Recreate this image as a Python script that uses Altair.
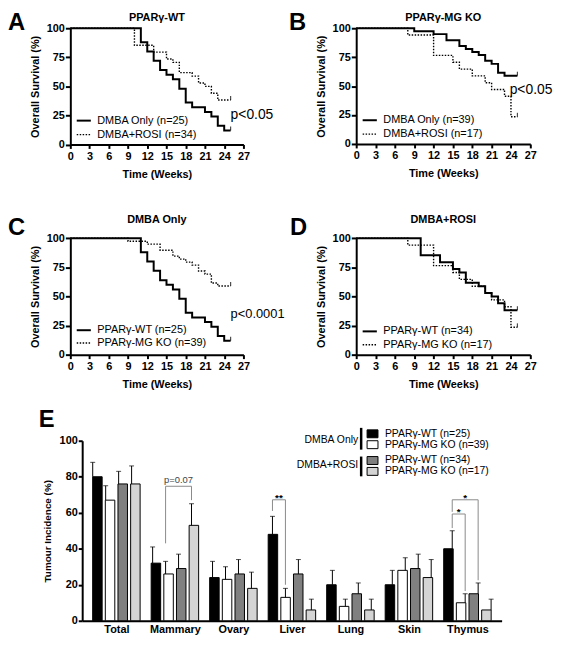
import json
import altair as alt
import pandas as pd

FONT = "Liberation Sans"
W, H = 557, 632

# ---------------- Kaplan-Meier curves (weeks, % survival) ----------------
wt_dmba_t = [0, 11, 12, 13, 14, 15, 16, 17, 18, 19, 21, 22, 23, 24, 25]
wt_dmba_s = [100, 88, 80, 72, 64, 60, 56, 48, 36, 32, 28, 24, 16, 12, 12]
wt_rosi_t = [0, 10, 13, 15, 16, 17, 19, 20, 21, 22, 23, 25]
wt_rosi_s = [100, 85.3, 79.4, 73.5, 70.6, 61.8, 58.8, 52.9, 50.0, 44.1, 38.2, 38.2]
ko_dmba_t = [0, 9, 12, 14, 16, 17, 18, 19, 20, 21, 22, 23, 25]
ko_dmba_s = [100, 97.4, 94.9, 89.7, 84.6, 82.1, 79.5, 76.9, 71.8, 69.2, 61.5, 59.0, 59.0]
ko_rosi_t = [0, 8, 12, 15, 16, 18, 20, 21, 23, 24, 25]
ko_rosi_s = [100, 94.1, 76.5, 70.6, 64.7, 58.8, 52.9, 47.1, 41.2, 23.5, 23.5]

km_x_ticks = [0, 3, 6, 9, 12, 15, 18, 21, 24, 27]
km_y_ticks = [0, 25, 50, 75, 100]

# ---------------- Tumour incidence ----------------
categories = ["Total", "Mammary", "Ovary", "Liver", "Lung", "Skin", "Thymus"]
series = ["PPARγ-WT (n=25)", "PPARγ-MG KO (n=39)", "PPARγ-WT (n=34)", "PPARγ-MG KO (n=17)"]
groups = ["DMBA Only", "DMBA+ROSI"]
inc_wt_dmba = [80, 32, 24, 48, 20, 20, 40]
inc_ko_dmba = [67, 26, 23, 13, 8, 28, 10]
inc_wt_rosi = [76, 29, 26, 26, 15, 29, 15]
inc_ko_rosi = [76, 53, 18, 6, 6, 24, 6]
err_wt_dmba = [8, 9, 9, 10, 8, 8, 10]
err_ko_dmba = [8, 7, 7, 5, 4, 7, 5]
err_wt_rosi = [7, 8, 8, 8, 6, 8, 6]
err_ko_rosi = [10, 12, 9, 6, 6, 10, 6]
bar_y_ticks = [0, 20, 40, 60, 80, 100]

# significance brackets: category, left series, right series, top, left foot, right foot, label
brackets = [
    ("Mammary", 1, 3, 74.7, 43, 67, "p=0.07"),
    ("Liver", 0, 1, 67.2, 61, 20, "**"),
    ("Thymus", 0, 1, 59.3, 51.5, 16.5, "*"),
    ("Thymus", 0, 2, 67.2, 60.5, 22.5, "*"),
]

bar_colors = ["#000000", "#ffffff", "#808080", "#d4d4d4"]
offsets = [-0.3245, -0.1082, 0.1082, 0.3245]

AX = dict(domainColor="black", domainWidth=2, tickColor="black", tickWidth=2,
          labelFont=FONT, labelFontSize=11, labelFontWeight="bold", labelColor="black",
          labelFlush=False, labelOverlap=False, titleFont=FONT, titleFontWeight="bold",
          titleColor="black", grid=False)

one = pd.DataFrame({"k": [0]})


def ptext(label, x, y, size, weight="normal", align="left", baseline="alphabetic", color="black"):
    return alt.Chart(one).mark_text(text=label, fontSize=size, fontWeight=weight, align=align,
                                    baseline=baseline, color=color, fill=color, font=FONT).encode(
        x=alt.value(x), y=alt.value(y))


def km_panel(c1, c2, labs, xr, yr, leg_s, p_label=None, p_t=0, p_s=0, p_size=14):
    sx = alt.Scale(domain=[0, 27], range=xr, nice=False, zero=False)
    sy = alt.Scale(domain=[0, 100], range=yr, nice=False, zero=False)
    xa = alt.Axis(orient="bottom", offset=yr[0] - H, values=km_x_ticks, title="Time (Weeks)",
                  tickSize=4, labelPadding=2, titleFontSize=11, titlePadding=7, **AX)
    ya = alt.Axis(orient="left", offset=-xr[0], values=km_y_ticks, title="Overall Survival (%)",
                  tickSize=5, labelPadding=1, titleFontSize=11, titlePadding=6, **AX)

    def enc(ax_x=None, ax_y=None):
        return dict(x=alt.X("t:Q", scale=sx, axis=ax_x), y=alt.Y("s:Q", scale=sy, axis=ax_y))

    d1 = pd.DataFrame({"t": c1[0], "s": c1[1]})
    d2 = pd.DataFrame({"t": c2[0], "s": c2[1]})
    solid = alt.Chart(d1).mark_line(interpolate="step-after", color="black", strokeWidth=2).encode(**enc(xa, ya))
    dotted = alt.Chart(d2).mark_line(interpolate="step-after", color="black", strokeWidth=1.4,
                                     strokeDash=[1.5, 1.5]).encode(**enc())
    ends = pd.DataFrame({"t": [c1[0][-1], c2[0][-1]], "s": [c1[1][-1], c2[1][-1]]})
    endt = alt.Chart(ends).mark_tick(orient="vertical", size=4, thickness=1.2, color="black",
                                     yOffset=-2).encode(**enc())
    leg = pd.DataFrame({"t": [1.0, 1.0], "t2": [3.2, 3.2], "s": leg_s, "label": labs})
    r1 = alt.Chart(leg.iloc[[0]]).mark_rule(color="black", strokeWidth=2).encode(**enc(), x2="t2:Q")
    r2 = alt.Chart(leg.iloc[[1]]).mark_rule(color="black", strokeWidth=1.4,
                                            strokeDash=[1.5, 1.5]).encode(**enc(), x2="t2:Q")
    lt = alt.Chart(leg.assign(t=4.2)).mark_text(align="left", baseline="middle", fontSize=11,
                                                font=FONT, color="black").encode(**enc(), text="label:N")
    layers = [solid, dotted, endt, r1, r2, lt]
    if p_label:
        pdf = pd.DataFrame({"t": [p_t], "s": [p_s], "label": [p_label]})
        layers.append(alt.Chart(pdf).mark_text(align="left", baseline="middle", fontSize=p_size,
                                               font=FONT, color="black").encode(**enc(), text="label:N"))
    return layers


pA = km_panel((wt_dmba_t, wt_dmba_s), (wt_rosi_t, wt_rosi_s), ["DMBA Only (n=25)", "DMBA+ROSI (n=34)"],
              [63, 238], [134.5, 17], [20.5, 8.5], "p<0.05", 25.0, 25.6, 14)
pB = km_panel((ko_dmba_t, ko_dmba_s), (ko_rosi_t, ko_rosi_s), ["DMBA Only (n=39)", "DMBA+ROSI (n=17)"],
              [352, 528], [134, 17], [20.5, 8.5], "p<0.05", 23.8, 46.8, 14)
pC = km_panel((wt_dmba_t, wt_dmba_s), (ko_dmba_t, ko_dmba_s), ["PPARγ-WT (n=25)", "PPARγ-MG KO (n=39)"],
              [63, 238], [347, 229.3], [21, 10], "p<0.0001", 25.0, 35.3, 13)
pD = km_panel((wt_rosi_t, wt_rosi_s), (ko_rosi_t, ko_rosi_s), ["PPARγ-WT (n=34)", "PPARγ-MG KO (n=17)"],
              [352, 528], [347, 229.3], [20, 8.5])

# ---------------- Panel E ----------------
vals = [inc_wt_dmba, inc_ko_dmba, inc_wt_rosi, inc_ko_rosi]
errs = [err_wt_dmba, err_ko_dmba, err_wt_rosi, err_ko_rosi]
rows = []
for si, sname in enumerate(series):
    for ci, cat in enumerate(categories):
        rows.append({"cat": cat, "series": sname, "xpos": ci + offsets[si],
                     "v": vals[si][ci], "hi": vals[si][ci] + errs[si][ci]})
bar_df = pd.DataFrame(rows)

br_rows, br_txt = [], []
for bi, (cat, ls, rs, top, lf, rf, lab) in enumerate(brackets):
    ci = categories.index(cat)
    xl, xr_ = ci + offsets[ls], ci + offsets[rs]
    for k, (bx, by) in enumerate([(xl, lf), (xl, top), (xr_, top), (xr_, rf)]):
        br_rows.append({"bid": bi, "k": k, "xpos": bx, "v": by})
    br_txt.append({"xpos": (xl + xr_) / 2, "v": top, "label": lab})
br_df = pd.DataFrame(br_rows)
bt_df = pd.DataFrame(br_txt)

esx = alt.Scale(domain=[-0.5, 6.5], range=[75, 499], nice=False, zero=False)
esy = alt.Scale(domain=[0, 100], range=[616, 434], nice=False)
exa = alt.Axis(orient="bottom", offset=616 - H, values=list(range(len(categories))),
               labelExpr=json.dumps(categories) + "[datum.value]", ticks=False, tickSize=0,
               labelPadding=3, title="", **AX)
eya = alt.Axis(orient="left", offset=-75, values=bar_y_ticks, title="Tumour Incidence (%)",
               tickSize=4, labelPadding=1, titleFontSize=10, titlePadding=7, **AX)


def eenc(ax_x=None, ax_y=None):
    return dict(x=alt.X("xpos:Q", scale=esx, axis=ax_x), y=alt.Y("v:Q", scale=esy, axis=ax_y))


bars = alt.Chart(bar_df).mark_bar(width=9.6, stroke="black", strokeWidth=1, orient="vertical").encode(
    **eenc(exa, eya),
    color=alt.Color("series:N", scale=alt.Scale(domain=series, range=bar_colors), legend=None))
ebar = alt.Chart(bar_df).mark_rule(color="black", strokeWidth=1).encode(**eenc(), y2="hi:Q")
ecap = alt.Chart(bar_df).mark_tick(orient="horizontal", size=5, thickness=1, color="black").encode(
    x=alt.X("xpos:Q", scale=esx, axis=None), y=alt.Y("hi:Q", scale=esy, axis=None))
brl = alt.Chart(br_df).mark_line(color="#8a8a8a", strokeWidth=1).encode(
    **eenc(), detail="bid:N", order="k:Q")
brt_p = alt.Chart(bt_df[bt_df.label.str.startswith("p")]).mark_text(
    fontSize=9.5, font=FONT, color="#444444", baseline="alphabetic", dy=-3).encode(**eenc(), text="label:N")
brt_s = alt.Chart(bt_df[~bt_df.label.str.startswith("p")]).mark_text(
    fontSize=10, fontWeight="bold", font=FONT, color="black", fill="black", baseline="alphabetic",
    dy=1).encode(**eenc(), text="label:N")
pE = [bars, ebar, ecap, brl, brt_p, brt_s]

# legend of panel E (pixel positions)
leg_items = []
ys = [427, 438, 454, 465]
for i, sname in enumerate(series):
    leg_items.append(alt.Chart(one).mark_rect(fill=bar_colors[i], stroke="black", strokeWidth=1).encode(
        x=alt.value(363), x2=alt.value(374), y=alt.value(ys[i] - 4), y2=alt.value(ys[i] + 4)))
    leg_items.append(ptext(sname, 381, ys[i], 10.5, baseline="middle"))
leg_items.append(ptext(groups[0], 354, 433, 10.5, align="right", baseline="middle"))
leg_items.append(ptext(groups[1], 354, 459, 10.5, align="right", baseline="middle"))
for y1, y2 in [(421, 443), (450, 470)]:
    leg_items.append(alt.Chart(one).mark_rule(color="black", strokeWidth=2.5).encode(
        x=alt.value(357), y=alt.value(y1), y2=alt.value(y2)))

annots = [
    ptext("PPARγ-WT", 150.5, 10, 11, "bold", "center"),
    ptext("PPARγ-MG KO", 440, 10, 11, "bold", "center"),
    ptext("DMBA Only", 150.5, 214, 11, "bold", "center"),
    ptext("DMBA+ROSI", 440, 214, 11, "bold", "center"),
    ptext("A", 0, 19, 24, "bold"),
    ptext("B", 284, 19, 24, "bold"),
    ptext("C", 0, 226, 24, "bold"),
    ptext("D", 285, 226, 24, "bold"),
    ptext("E", 31, 420, 24, "bold"),
]

chart = alt.layer(*pA, *pB, *pC, *pD, *pE, *leg_items, *annots).resolve_scale(
    x="independent", y="independent", color="independent").resolve_axis(
    x="independent", y="independent").properties(
    width=W, height=H, autosize=alt.AutoSizeParams(type="none"), padding=0
).configure(font=FONT).configure_view(stroke=None, strokeWidth=0)

chart.save("out.html", embed_options={"renderer": "svg", "actions": False})
